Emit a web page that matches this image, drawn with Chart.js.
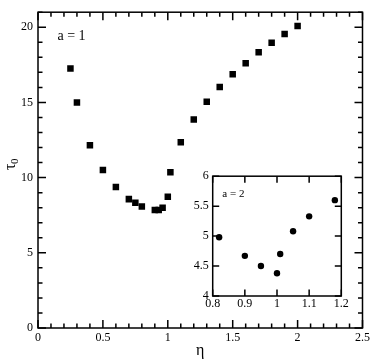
<!DOCTYPE html>
<html>
<head>
<meta charset="utf-8">
<script src="https://cdn.jsdelivr.net/npm/chart.js@4/dist/chart.umd.min.js"></script>
<style>
  body { margin: 0; background: #fff; }
  #wrap { position: relative; width: 373px; height: 360px; }
  #mainChart { position: absolute; left: 0; top: 0; }
  #insetChart { position: absolute; left: 175px; top: 165px; }
</style>
</head>
<body>
<div id="wrap">
  <canvas id="mainChart" width="373" height="360"></canvas>
  <canvas id="insetChart" width="175" height="150"></canvas>
</div>
<script>
// main panel, a = 1
const mainEta = [0.25, 0.3, 0.4, 0.5, 0.6, 0.7, 0.75, 0.8, 0.9, 0.93, 0.96, 1.0, 1.02, 1.1, 1.2, 1.3, 1.4, 1.5, 1.6, 1.7, 1.8, 1.9, 2.0];
const mainTau = [17.25, 15.0, 12.15, 10.5, 9.37, 8.57, 8.33, 8.08, 7.85, 7.85, 8.0, 8.72, 10.35, 12.35, 13.86, 15.04, 16.02, 16.88, 17.6, 18.34, 18.97, 19.55, 20.08];

// inset, a = 2
const insetEta = [0.82, 0.9, 0.95, 1.0, 1.01, 1.05, 1.1, 1.18];
const insetTau = [4.98, 4.67, 4.5, 4.38, 4.7, 5.08, 5.33, 5.6];

const serif = "'Liberation Serif', 'DejaVu Serif', serif";

function toPoints(xs, ys) {
  return xs.map((x, i) => ({ x: x, y: ys[i] }));
}

// plain tick text: 4, 4.5, 1, 1.1 ...
const plain = (v) => String(Math.round(v * 100) / 100);

// frame + inward ticks on all four sides
function frameTicks(opts) {
  return {
    id: "frameTicks",
    afterDraw(chart) {
      const ctx = chart.ctx;
      const a = chart.chartArea;
      const sx = chart.scales.x;
      const sy = chart.scales.y;
      ctx.save();
      ctx.strokeStyle = "#000";
      ctx.lineWidth = opts.lw;
      ctx.beginPath();
      opts.xTicks.forEach((t) => {
        const px = sx.getPixelForValue(t.v);
        const len = t.major ? opts.major : opts.minor;
        ctx.moveTo(px, a.bottom);
        ctx.lineTo(px, a.bottom - len);
        ctx.moveTo(px, a.top);
        ctx.lineTo(px, a.top + len);
      });
      opts.yTicks.forEach((t) => {
        const py = sy.getPixelForValue(t.v);
        const len = t.major ? opts.major : opts.minor;
        ctx.moveTo(a.left, py);
        ctx.lineTo(a.left + len, py);
        ctx.moveTo(a.right, py);
        ctx.lineTo(a.right - len, py);
      });
      ctx.stroke();
      ctx.strokeRect(a.left, a.top, a.right - a.left, a.bottom - a.top);

      ctx.fillStyle = "#000";
      ctx.textBaseline = "middle";
      ctx.textAlign = "left";
      ctx.font = opts.labelFont;
      ctx.fillText(opts.label, sx.getPixelForValue(opts.labelAt[0]), sy.getPixelForValue(opts.labelAt[1]));
      if (opts.axisTitles) opts.axisTitles(ctx, chart);
      ctx.restore();
    },
  };
}

const mainXTicks = [];
for (let i = 0; i <= 25; i++) mainXTicks.push({ v: i / 10, major: i % 5 === 0 });
const mainYTicks = [];
for (let i = 0; i <= 21; i++) mainYTicks.push({ v: i, major: i % 5 === 0 });

new Chart(document.getElementById("mainChart").getContext("2d"), {
  type: "scatter",
  data: {
    datasets: [
      {
        data: toPoints(mainEta, mainTau),
        pointStyle: "rect",
        pointRadius: 4.6,
        borderWidth: 0,
        backgroundColor: "#000",
      },
    ],
  },
  options: {
    responsive: false,
    animation: false,
    devicePixelRatio: 1,
    layout: { padding: { left: 0, right: 10, top: 2, bottom: 0 } },
    plugins: { legend: { display: false }, tooltip: { enabled: false } },
    scales: {
      x: {
        type: "linear",
        min: 0,
        max: 2.5,
        grid: { display: false, drawTicks: false, tickLength: 0 },
        border: { display: false },
        ticks: { stepSize: 0.5, color: "#000", padding: 3, callback: plain, font: { family: serif, size: 12 } },
        afterFit: (s) => { s.height = 32; },
      },
      y: {
        type: "linear",
        min: 0,
        max: 21,
        grid: { display: false, drawTicks: false, tickLength: 0 },
        border: { display: false },
        ticks: { stepSize: 5, includeBounds: false, color: "#000", padding: 5, callback: plain, font: { family: serif, size: 12 } },
        afterFit: (s) => { s.width = 38; },
      },
    },
  },
  plugins: [
    frameTicks({
      lw: 1.5,
      major: 8,
      minor: 4.5,
      xTicks: mainXTicks,
      yTicks: mainYTicks,
      label: "a = 1",
      labelAt: [0.15, 19.4],
      labelFont: "14px " + serif,
      axisTitles: (ctx, chart) => {
        const a = chart.chartArea;
        // η under the x axis
        ctx.textAlign = "center";
        ctx.font = "16px " + serif;
        ctx.fillText("η", (a.left + a.right) / 2, 351);
        // τ0 rotated
        ctx.save();
        ctx.translate(11, 170);
        ctx.rotate(-Math.PI / 2);
        ctx.textAlign = "left";
        ctx.font = "16px " + serif;
        ctx.fillText("τ", 0, 0);
        ctx.font = "11px " + serif;
        ctx.fillText("0", 6, 4);
        ctx.restore();
      },
    }),
  ],
});

const insetXTicks = [0.8, 0.9, 1.0, 1.1, 1.2].map((v) => ({ v: v, major: true }));
const insetYTicks = [4, 4.5, 5, 5.5, 6].map((v) => ({ v: v, major: true }));

new Chart(document.getElementById("insetChart").getContext("2d"), {
  type: "scatter",
  data: {
    datasets: [
      {
        data: toPoints(insetEta, insetTau),
        pointStyle: "circle",
        pointRadius: 3.2,
        borderWidth: 0,
        backgroundColor: "#000",
      },
    ],
  },
  options: {
    responsive: false,
    animation: false,
    devicePixelRatio: 1,
    layout: { padding: { left: 0, right: 8.7, top: 9.7, bottom: 0 } },
    plugins: { legend: { display: false }, tooltip: { enabled: false } },
    scales: {
      x: {
        type: "linear",
        min: 0.8,
        max: 1.2,
        grid: { display: false, drawTicks: false, tickLength: 0 },
        border: { display: false },
        ticks: { stepSize: 0.1, color: "#000", padding: 1, callback: plain, font: { family: serif, size: 12 } },
        afterFit: (s) => { s.height = 19; },
      },
      y: {
        type: "linear",
        min: 4,
        max: 6,
        grid: { display: false, drawTicks: false, tickLength: 0 },
        border: { display: false },
        ticks: { stepSize: 0.5, color: "#000", padding: 4, callback: plain, font: { family: serif, size: 12 } },
        afterFit: (s) => { s.width = 37.7; },
      },
    },
  },
  plugins: [
    frameTicks({
      lw: 1.5,
      major: 6.5,
      minor: 0,
      xTicks: insetXTicks,
      yTicks: insetYTicks,
      label: "a = 2",
      labelAt: [0.83, 5.7],
      labelFont: "11px " + serif,
    }),
  ],
});
</script>
</body>
</html>
